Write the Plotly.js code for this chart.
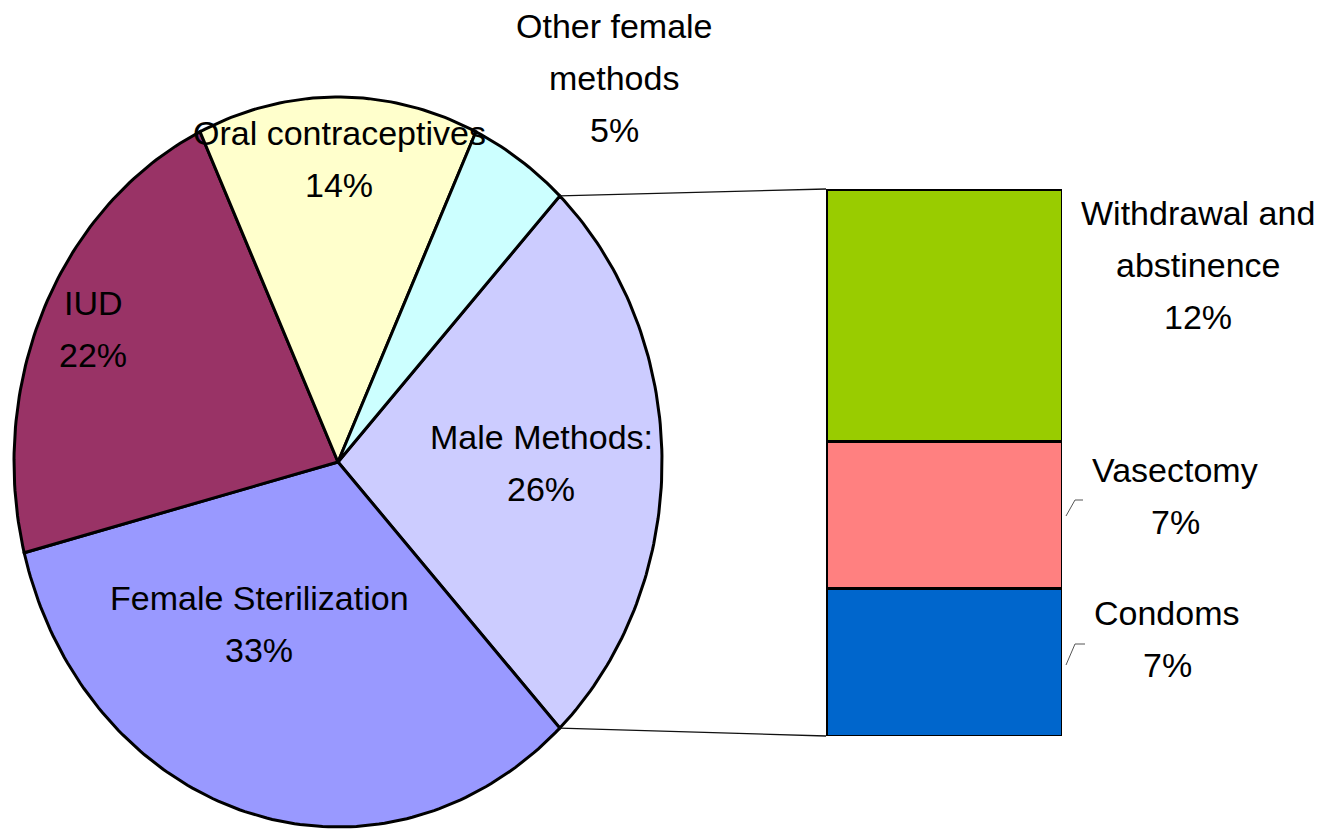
<!DOCTYPE html>
<html>
<head>
<meta charset="utf-8">
<script src="https://cdn.plot.ly/plotly-3.0.1.min.js"></script>
<style>html,body{margin:0;padding:0;background:#fff;}#chart{width:1335px;height:829px;}</style>
</head>
<body>
<div id="chart"></div>
<script>
// ---- data ----
const pieLabels = ['Male Methods:', 'Female Sterilization', 'IUD', 'Oral contraceptives', 'Other female methods'];
const pieLabelLines = [['Male Methods:'], ['Female Sterilization'], ['IUD'], ['Oral contraceptives'], ['Other female', 'methods']];
const pieValues = [26, 33, 22, 14, 5];
const pieColors = ['#CCCCFF', '#9999FF', '#993366', '#FFFFCC', '#CCFFFF'];

const barLabels = ['Condoms', 'Vasectomy', 'Withdrawal and abstinence'];
const barLabelLines = [['Condoms'], ['Vasectomy'], ['Withdrawal and', 'abstinence']];
const barValues = [7, 7, 12];
const barColors = ['#0066CC', '#FF8080', '#99CC00'];

// ---- layout constants (pixels) ----
const W = 1335, H = 829;
const cx = 338, cy = 462, rx = 324, ry = 365;
const barLeft = 826, barRight = 1062, barTop = 189, barBottom = 736;
const FONT = {family: '"Liberation Sans", Arial, sans-serif', size: 34, color: '#000'};
const LINE = 52;
// label anchor (center of first line) positions
const pieLabelPos = [[541, 437], [259, 598], [93, 303], [339, 133], [614, 26]];
const barLabelPos = [[1167, 613], [1175, 470], [1198, 213]];

const total = pieValues.reduce((a, b) => a + b, 0);
const traces = [];
let start = pieValues[0] / total * 180; // first slice centred on the right
const junctions = [];
pieValues.forEach((v, i) => {
  const sweep = v / total * 360;
  const end = start - sweep;
  const xs = [cx], ys = [cy];
  const n = Math.max(4, Math.ceil(sweep));
  for (let k = 0; k <= n; k++) {
    const t = (start - sweep * k / n) * Math.PI / 180;
    xs.push(cx + rx * Math.cos(t));
    ys.push(cy - ry * Math.sin(t));
  }
  xs.push(cx); ys.push(cy);
  junctions.push([start, end]);
  traces.push({
    type: 'scatter', mode: 'lines', x: xs, y: ys, fill: 'toself',
    fillcolor: pieColors[i], line: {color: '#000', width: 3},
    hoverinfo: 'skip', xaxis: 'x', yaxis: 'y', name: pieLabels[i]
  });
  start = end;
});

// connector lines from the "Male Methods" slice edges to the bar corners
const a0 = junctions[0][0] * Math.PI / 180, a1 = junctions[0][1] * Math.PI / 180;
traces.push({
  type: 'scatter', mode: 'lines',
  x: [cx + rx * Math.cos(a0), barLeft, null, cx + rx * Math.cos(a1), barLeft],
  y: [cy - ry * Math.sin(a0), barTop, null, cy - ry * Math.sin(a1), barBottom],
  line: {color: '#111', width: 1.3}, hoverinfo: 'skip', xaxis: 'x', yaxis: 'y'
});

// stacked bar
barValues.forEach((v, i) => {
  traces.push({
    type: 'bar', x: [0], y: [v], width: [1], name: barLabels[i],
    marker: {color: barColors[i], line: {color: '#000', width: 3}},
    hoverinfo: 'skip', xaxis: 'x2', yaxis: 'y2'
  });
});

const annotations = [];
const pct = (v) => Math.round(v / total * 100) + '%';
pieLabelLines.forEach((lines, i) => {
  const [px, py] = pieLabelPos[i];
  lines.concat([pct(pieValues[i])]).forEach((t, k) => {
    annotations.push({x: px, y: py + k * LINE, xref: 'x', yref: 'y', text: t, showarrow: false,
      font: FONT, xanchor: 'center', yanchor: 'middle'});
  });
});
barLabelLines.forEach((lines, i) => {
  const [px, py] = barLabelPos[i];
  lines.concat([pct(barValues[i])]).forEach((t, k) => {
    annotations.push({x: px, y: py + k * LINE, xref: 'x', yref: 'y', text: t, showarrow: false,
      font: FONT, xanchor: 'center', yanchor: 'middle'});
  });
});

// small leader lines for Vasectomy and Condoms
const shapes = [
  {type: 'path', xref: 'x', yref: 'y', path: 'M1066,516 L1075,500 L1083,500', line: {color: '#555', width: 1}},
  {type: 'path', xref: 'x', yref: 'y', path: 'M1066,665 L1075,644 L1085,644', line: {color: '#555', width: 1}}
];

const barSum = barValues.reduce((a, b) => a + b, 0);
const layout = {
  width: W, height: H, margin: {l: 0, r: 0, t: 0, b: 0},
  paper_bgcolor: '#fff', plot_bgcolor: '#fff', showlegend: false, hovermode: false,
  barmode: 'stack', bargap: 0,
  xaxis: {range: [0, W], visible: false, fixedrange: true, domain: [0, 1]},
  yaxis: {range: [H, 0], visible: false, fixedrange: true, domain: [0, 1]},
  xaxis2: {range: [-0.5, 0.5], visible: false, domain: [barLeft / W, barRight / W], anchor: 'y2'},
  yaxis2: {range: [0, barSum], visible: false, domain: [(H - barBottom) / H, (H - barTop) / H], anchor: 'x2'},
  annotations: annotations, shapes: shapes
};

Plotly.newPlot('chart', traces, layout, {staticPlot: true, displayModeBar: false});
</script>
</body>
</html>
